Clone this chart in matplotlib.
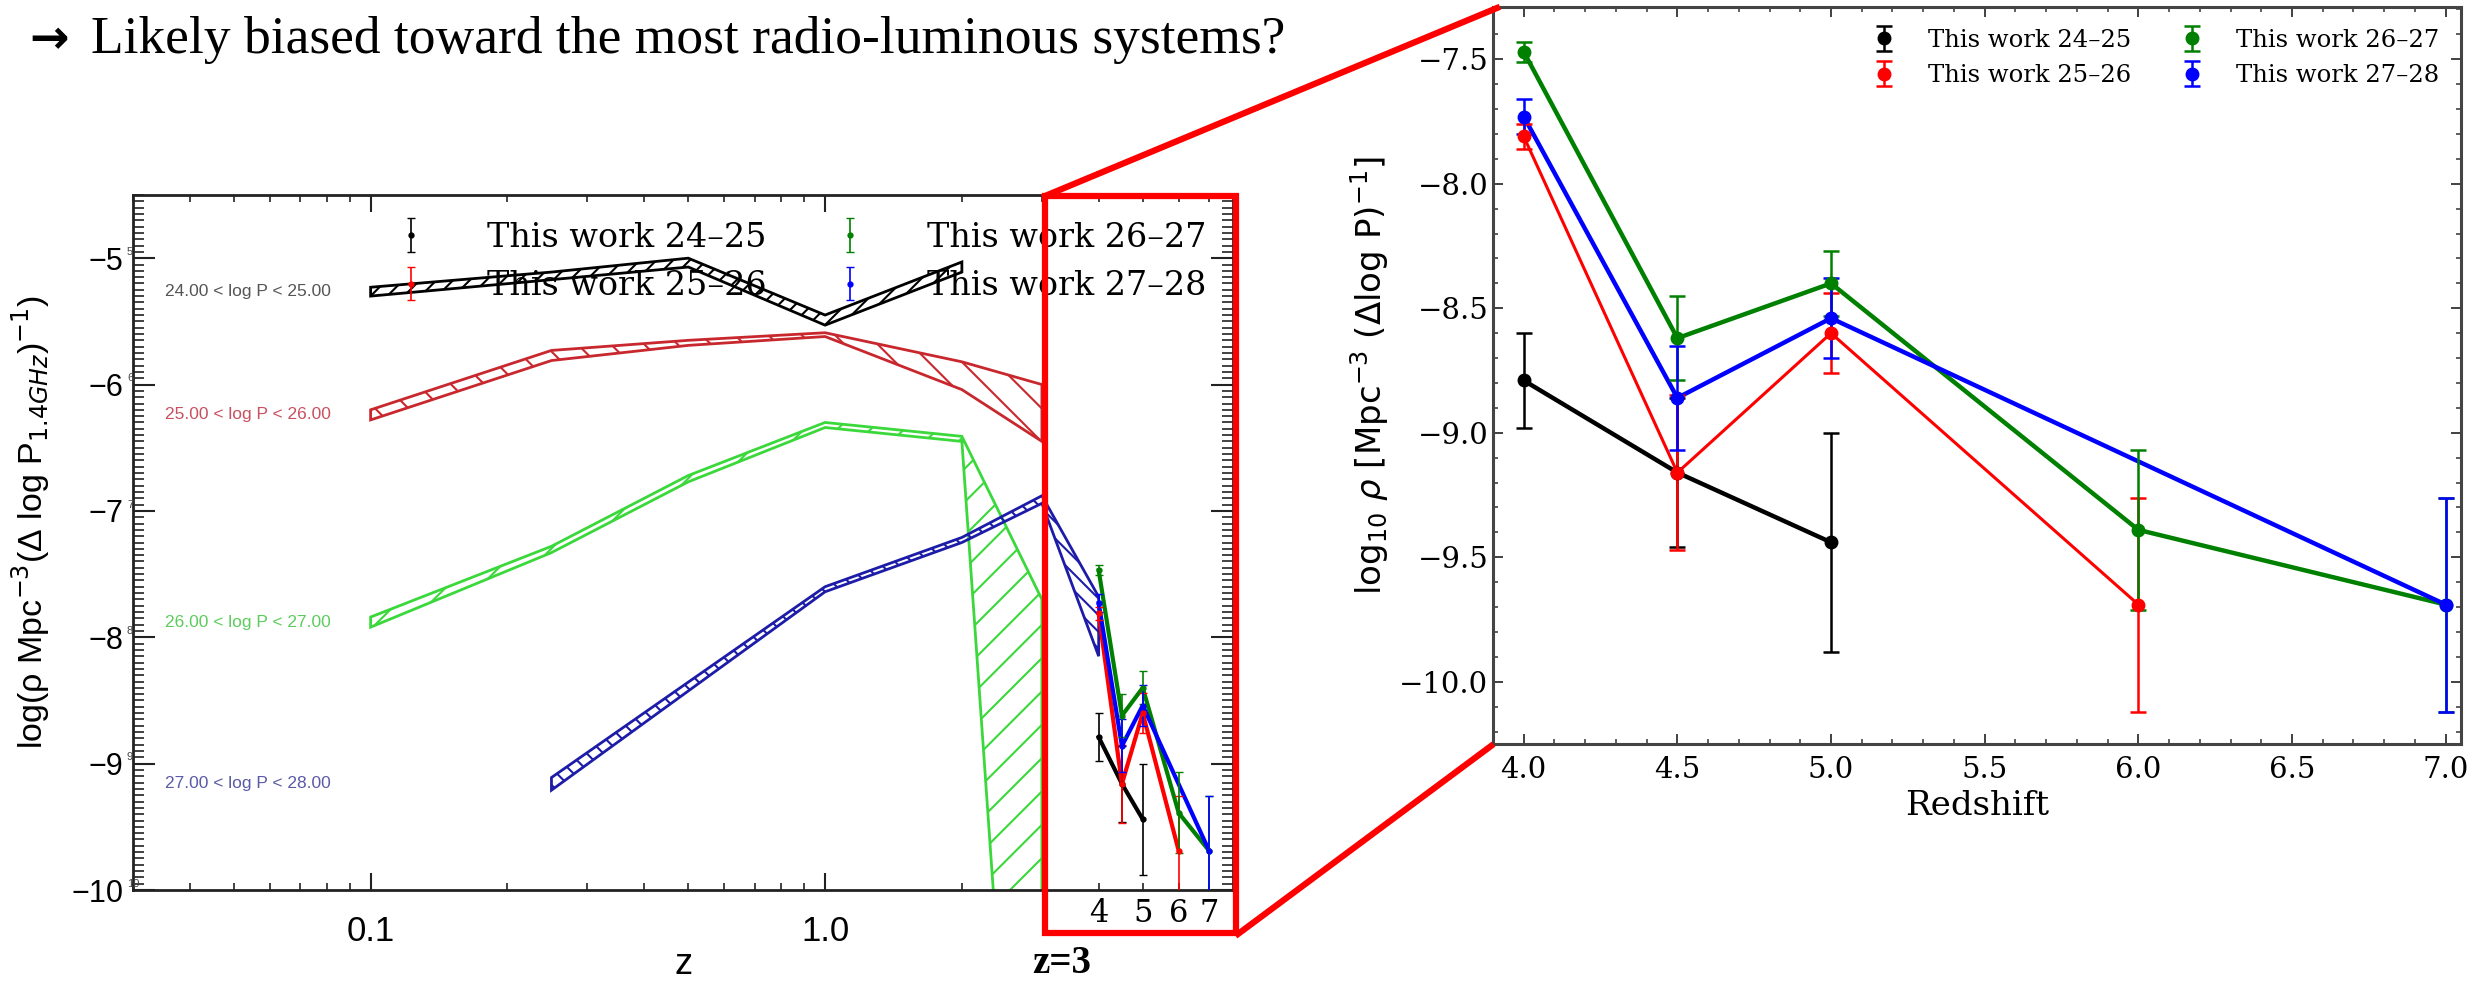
import matplotlib
matplotlib.use("Agg")
import matplotlib.pyplot as plt
import matplotlib.ticker as mticker
import matplotlib.transforms as mtransforms
from matplotlib.patches import Rectangle
from matplotlib.lines import Line2D

plt.rcParams['font.family'] = 'DejaVu Serif'
plt.rcParams['hatch.linewidth'] = 1.5

W, H = 2486, 986

# ---- model bands (left panel), log rho vs z ----
z_b24 = [0.1, 0.25, 0.5, 1.0, 2.0]
hi_b24 = [-5.23, -5.11, -5.00, -5.45, -5.03]
lo_b24 = [-5.30, -5.17, -5.07, -5.53, -5.11]

z_b25 = [0.1, 0.25, 0.5, 1.0, 2.0, 3.0]
hi_b25 = [-6.20, -5.73, -5.65, -5.59, -5.82, -6.00]
lo_b25 = [-6.28, -5.81, -5.69, -5.62, -6.04, -6.45]

z_b26_hi = [0.1, 0.25, 0.5, 1.0, 2.0, 3.0]
hi_b26 = [-7.84, -7.28, -6.72, -6.30, -6.41, -7.70]
z_b26_lo = [0.1, 0.25, 0.5, 1.0, 2.0, 2.35, 3.0]
lo_b26 = [-7.92, -7.33, -6.77, -6.34, -6.45, -10.05, -10.05]

z_b27 = [0.25, 1.0, 2.0, 3.0, 4.0]
hi_b27 = [-9.11, -7.60, -7.21, -6.88, -7.68]
lo_b27 = [-9.21, -7.64, -7.25, -6.94, -8.15]

band_names = ["24.00 < log P < 25.00", "25.00 < log P < 26.00",
              "26.00 < log P < 27.00", "27.00 < log P < 28.00"]

# ---- this work (both panels) ----
z_2425 = [4.0, 4.5, 5.0]
rho_2425 = [-8.79, -9.16, -9.44]
err_2425 = [0.19, 0.30, 0.44]

z_2526 = [4.0, 4.5, 5.0, 6.0]
rho_2526 = [-7.81, -9.16, -8.60, -9.69]
err_2526 = [0.05, 0.31, 0.16, 0.43]

z_2627 = [4.0, 4.5, 5.0, 6.0, 7.0]
rho_2627 = [-7.47, -8.62, -8.40, -9.39, -9.69]
err_2627 = [0.04, 0.17, 0.13, 0.32, 0.43]

z_2728 = [4.0, 4.5, 5.0, 7.0]
rho_2728 = [-7.73, -8.86, -8.54, -9.69]
err_2728 = [0.07, 0.21, 0.16, 0.43]

labels = ["This work 24\u201325", "This work 25\u201326",
          "This work 26\u201327", "This work 27\u201328"]
colors = ["black", "red", "green", "blue"]
work = [(z_2425, rho_2425, err_2425), (z_2526, rho_2526, err_2526),
        (z_2627, rho_2627, err_2627), (z_2728, rho_2728, err_2728)]

box_z = [4, 5, 6, 7]          # redshift numbers written under the zoom box

fig = plt.figure(figsize=(W / 100, H / 100), dpi=100)
fig.patch.set_facecolor('white')

# =================== left panel ===================
axl = fig.add_axes([133 / W, 1 - 890 / H, 1100 / W, 695 / H])
axl.set_xscale('log')
axl.set_xlim(0.03, 7.9)
axl.set_ylim(-10.0, -4.5)

SANS = ['Liberation Sans', 'DejaVu Sans']


def band(zu, vu, zl, vl, color, hatch):
    xs = list(zu) + list(zl)[::-1]
    ys = list(vu) + list(vl)[::-1]
    axl.fill(xs, ys, facecolor='none', edgecolor=color, hatch=hatch, lw=2, zorder=2)


band(z_b24, hi_b24, z_b24, lo_b24, 'black', '//')
band(z_b25, hi_b25, z_b25, lo_b25, '#c8282d', '\\')
band(z_b26_hi, hi_b26, z_b26_lo, lo_b26, '#3ad83a', '/')
band(z_b27, hi_b27, z_b27, lo_b27, '#1c1ca8', '\\\\')

# band labels
lab_y = [(hi_b24[0] + lo_b24[0]) / 2, (hi_b25[0] + lo_b25[0]) / 2,
         (hi_b26[0] + lo_b26[0]) / 2, (hi_b27[0] + lo_b27[0]) / 2]
lab_c = ['#555555', '#c85060', '#5ccc5c', '#5a5aa8']
trl = mtransforms.blended_transform_factory(axl.transAxes, axl.transData)
for name, y, c in zip(band_names, lab_y, lab_c):
    axl.text(0.029, y, name, transform=trl, fontsize=12.5, family=SANS,
             color=c, va='center', ha='left')

# this work (small version)
for (zz, rr, ee), c, lab in zip(work, colors, labels):
    axl.plot(zz, rr, color=c, lw=3, zorder=4)
    axl.errorbar(zz, rr, yerr=ee, fmt='o', color=c, ms=3.5, elinewidth=1.2,
                 capsize=3, label=lab, zorder=5)

axl.legend(loc='upper right', ncol=2, frameon=False, fontsize=24,
           columnspacing=1.5, handletextpad=1.3, borderaxespad=0.4)

axl.xaxis.set_major_locator(mticker.FixedLocator([0.1, 1.0]))
axl.xaxis.set_major_formatter(mticker.FixedFormatter(["0.1", "1.0"]))
axl.xaxis.set_minor_locator(mticker.LogLocator(base=10, subs=range(2, 10)))
axl.xaxis.set_minor_formatter(mticker.NullFormatter())
axl.yaxis.set_major_locator(mticker.MultipleLocator(1))
axl.yaxis.set_minor_locator(mticker.MultipleLocator(0.05))
axl.yaxis.set_major_formatter(mticker.FuncFormatter(lambda v, p: "\u2212%d" % abs(v)))
axl.tick_params(axis='both', which='both', direction='in', top=True, right=True,
                color='#222222')
axl.tick_params(axis='y', which='major', length=16, width=1.5, labelsize=22, pad=7)
axl.tick_params(axis='y', which='minor', length=8, width=1.2)
axl.tick_params(axis='x', which='major', length=12, width=1.5, labelsize=25, pad=18)
axl.tick_params(axis='x', which='minor', length=5, width=1.2)
for t in axl.get_xticklabels() + axl.get_yticklabels():
    t.set_family(SANS)
for s in axl.spines.values():
    s.set_linewidth(2)
    s.set_color('#222222')

# small doubled digits next to the y tick labels (overlaid axis in the original)
for v in axl.get_yticks():
    if -10 <= v <= -5:
        axl.text(-0.0055, v + 0.05, "%d" % abs(v), transform=trl, fontsize=8,
                 family=SANS, color='#444444', ha='left', va='center')

# redshift numbers under the zoom box
trx = mtransforms.blended_transform_factory(axl.transData, axl.transAxes)
for zv in box_z:
    axl.text(zv, -0.012, "%d" % zv, transform=trx, fontsize=22, ha='center',
             va='top', family='DejaVu Serif')

axl.set_xlabel("z", fontsize=26, family=SANS)
axl.xaxis.set_label_coords(0.5, -0.082)
axl.set_ylabel("log(\u03c1 Mpc$^{-3}$(\u0394 log P$_{1.4GHz}$)$^{-1}$)",
               fontsize=24.5, family=SANS)
axl.yaxis.set_label_coords(-0.074, 0.53)

# =================== right panel ===================
axr = fig.add_axes([1493 / W, 1 - 744 / H, 968 / W, 737 / H])
for (zz, rr, ee), c, lab in zip(work, colors, labels):
    lw = 2.2 if c == 'red' else 3.2
    axr.plot(zz, rr, color=c, lw=lw, zorder=3)
    axr.errorbar(zz, rr, yerr=ee, fmt='o', color=c, ms=9, elinewidth=1.8,
                 capsize=6, capthick=1.8, label=lab, zorder=4)

axr.set_xlim(3.9, 7.05)
axr.set_ylim(-10.25, -7.29)
axr.xaxis.set_major_locator(mticker.MultipleLocator(0.5))
axr.xaxis.set_minor_locator(mticker.MultipleLocator(0.1))
axr.yaxis.set_major_locator(mticker.MultipleLocator(0.5))
axr.yaxis.set_minor_locator(mticker.MultipleLocator(0.1))
axr.tick_params(axis='both', which='both', direction='in', top=True, right=True,
                color='#333333')
axr.tick_params(axis='both', which='major', length=7, width=1.3, labelsize=21)
axr.tick_params(axis='both', which='minor', length=3.5, width=1.1)
axr.tick_params(axis='x', which='major', pad=9)
for s in axr.spines.values():
    s.set_linewidth(2.2)
    s.set_color('#444444')
axr.set_xlabel("Redshift", fontsize=24.5, labelpad=4)
axr.set_ylabel("$\\log_{10}\\,\\rho$ [Mpc$^{-3}$ ($\\Delta$log P)$^{-1}$]",
               fontsize=24.5, family='DejaVu Sans', labelpad=6)
axr.legend(loc='upper right', ncol=2, frameon=False, fontsize=17.5,
           columnspacing=1.5, handletextpad=0.8, borderaxespad=0.5)

# =================== slide annotations ===================
fig.text(29 / W, 1 - 53 / H, "\u2192", fontsize=34, fontweight='bold',
         family='DejaVu Sans', va='baseline', ha='left')
fig.text(91 / W, 1 - 53 / H,
         "Likely biased toward the most radio-luminous systems?",
         fontsize=38.5, family=['Liberation Serif', 'DejaVu Serif'],
         va='baseline', ha='left')
fig.text(1032 / W, 1 - 973 / H, "z=3", fontsize=28, fontweight='bold',
         family=['Liberation Serif', 'DejaVu Serif'], va='baseline', ha='left')

RED = '#ff0000'
fig.add_artist(Rectangle((1045 / W, 1 - 933 / H), (1236 - 1045) / W, (933 - 196) / H,
                         transform=fig.transFigure, fill=False, ec=RED, lw=4.5,
                         zorder=10))
fig.add_artist(Line2D([1045 / W, 1497 / W], [1 - 196 / H, 1 - 8 / H],
                      transform=fig.transFigure, color=RED, lw=4.5, zorder=10))
fig.add_artist(Line2D([1238 / W, 1491 / W], [1 - 934 / H, 1 - 746 / H],
                      transform=fig.transFigure, color=RED, lw=4.5, zorder=10))

fig.savefig("out.png", dpi=100, facecolor='white')
